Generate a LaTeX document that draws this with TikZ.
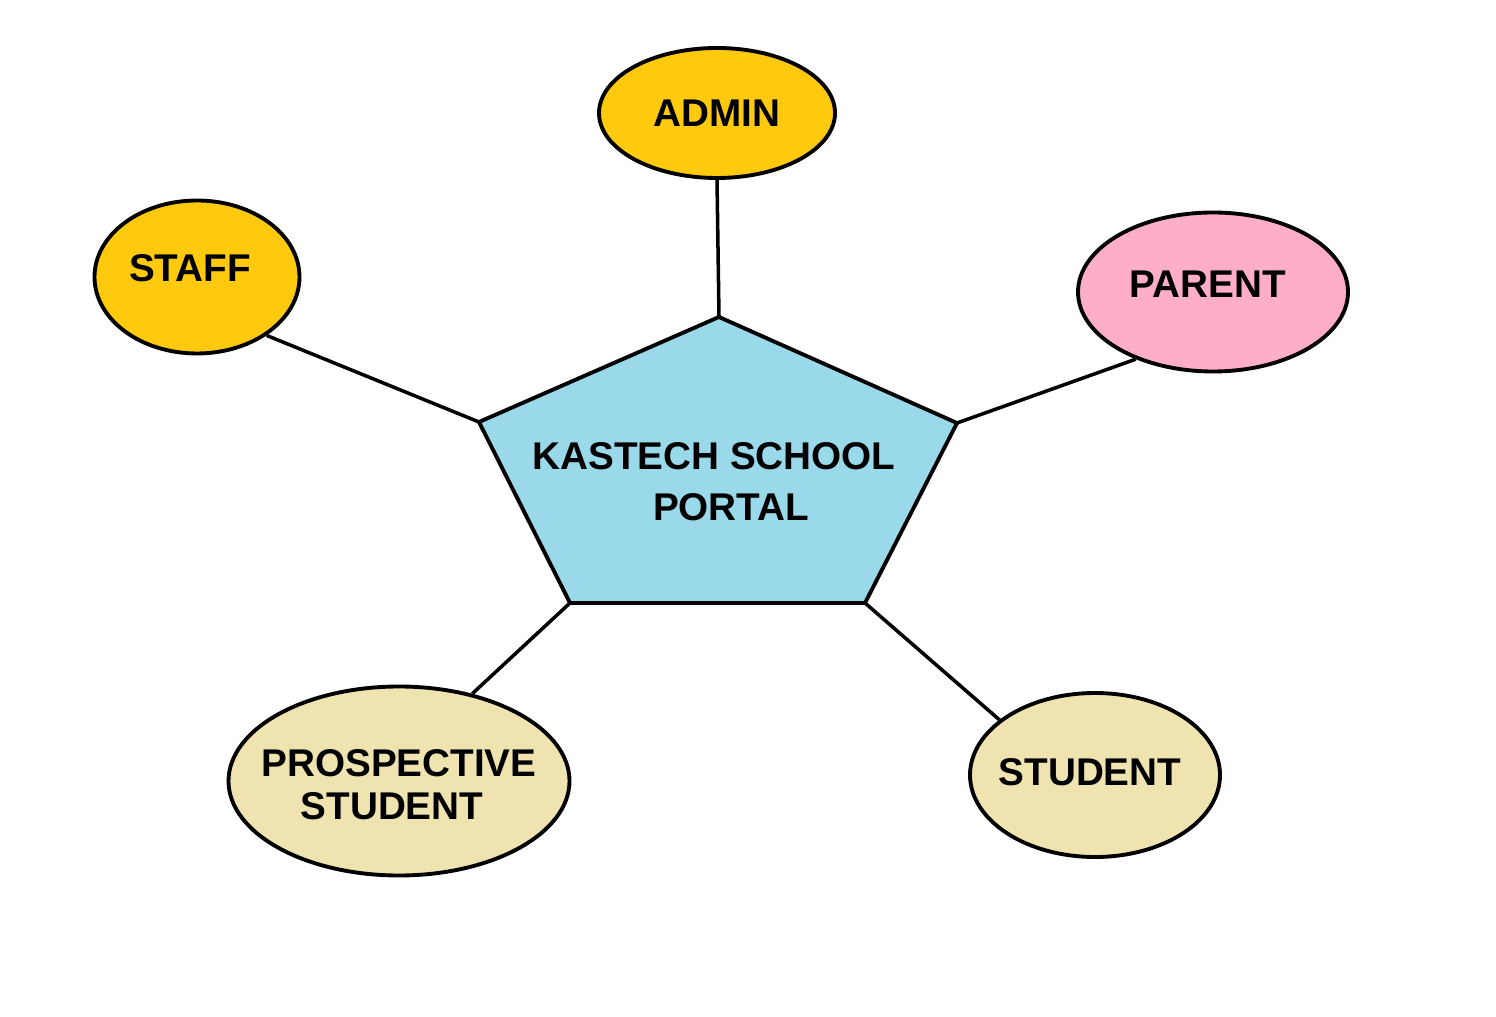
\documentclass[tikz,border=0pt]{standalone}
\usepackage{fontspec}
\setmainfont{Liberation Sans}
\usepackage{tikz}
\usetikzlibrary{shapes.geometric}
\definecolor{paintgold}{HTML}{FFC90E}
\definecolor{paintpink}{HTML}{FFAEC9}
\definecolor{paintcream}{HTML}{EFE4B0}
\definecolor{paintblue}{HTML}{99D9EA}
\begin{document}
\begin{tikzpicture}[
    font=\fontsize{11}{14.5}\selectfont\bfseries,
    actor/.style={
		ellipse,
		draw=black,
		line width=1.1pt,
		inner sep=0pt
	},
	usertext/.style={
		align=center,
		font=\fontsize{11}{12.2}\selectfont\bfseries
	},
	link/.style={
		line width=1pt
	}
  ]
  \useasboundingbox (0,0) rectangle (14.96,10.16);

    % the portal in the middle
  \coordinate (p1) at (7.19,6.99);
  \coordinate (p2) at (9.57,5.93);
  \coordinate (p3) at (8.65,4.13);
  \coordinate (p4) at (5.70,4.13);
  \coordinate (p5) at (4.79,5.94);
  \draw [line width=1.1pt, fill=paintblue, line join=miter] (p1) -- (p2) -- (p3) -- (p4) -- (p5) -- cycle;
  \node [align=center] (portal) at (7.14,5.34) {KASTECH SCHOOL\\\hspace*{9.7pt}PORTAL};

    % the users round it
  \node [actor, fill=paintgold, minimum width=2.36cm, minimum height=1.30cm,
         label={[usertext]center:ADMIN}] (admin) at (7.17,9.03) {};
  \node [actor, fill=paintgold, minimum width=2.05cm, minimum height=1.53cm,
         label={[usertext, xshift=-0.07cm, yshift=0.09cm]center:STAFF}] (staff) at (1.97,7.39) {};
  \node [actor, fill=paintpink, minimum width=2.70cm, minimum height=1.59cm,
         label={[usertext, xshift=-0.05cm, yshift=0.08cm]center:PARENT}] (parent) at (12.13,7.24) {};
  \node [actor, fill=paintcream, minimum width=3.41cm, minimum height=1.89cm,
         label={[usertext, yshift=-0.04cm]center:PROSPECTIVE\\STUDENT\hspace*{4pt}}] (prospect) at (3.99,2.35) {};
  \node [actor, fill=paintcream, minimum width=2.50cm, minimum height=1.64cm,
         label={[usertext, xshift=-0.05cm, yshift=0.03cm]center:STUDENT}] (student) at (10.95,2.41) {};

 \draw [link] (admin.south) -- (p1);
 \draw [link] (staff.-40) -- (p5);
 \draw [link] (parent.-139) -- (p2);
 \draw [link] (prospect.50) -- (p4);
 \draw [link] (student.150) -- (p3);

\end{tikzpicture}
\end{document}
